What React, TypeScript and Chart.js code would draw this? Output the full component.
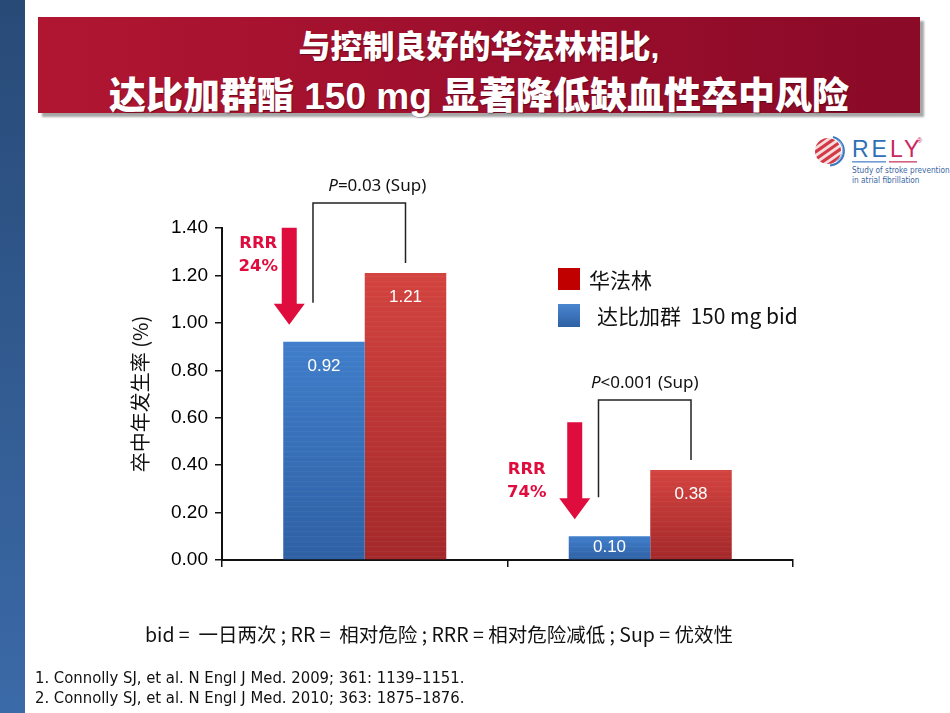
import React, { useEffect, useRef } from 'react';
import { Chart, registerables } from 'chart.js';

Chart.register(...registerables);

// ---- data ----
const groupLabels = ['RE-LY 2009', 'RE-LY 2010'];
const dabigatranRates = [0.92, 0.1];
const warfarinRates = [1.21, 0.38];
const dabigatranName = '达比加群  150 mg bid';
const warfarinName = '华法林';
const pValueTexts = ['=0.03 (Sup)', '<0.001 (Sup)'];
const rrrTexts = ['24%', '74%'];
const yMin = 0;
const yMax = 1.4;
const yStep = 0.2;
const yAxisTitle = '卒中年发生率 (%)';
const titleLines = ['与控制良好的华法林相比,', '达比加群酯 150 mg 显著降低缺血性卒中风险'];
const abbreviationNote = 'bid =  一日两次 ; RR =  相对危险 ; RRR = 相对危险减低 ; Sup = 优效性';
const references = [
  '1. Connolly SJ, et al. N Engl J Med. 2009; 361: 1139–1151.',
  '2. Connolly SJ, et al. N Engl J Med. 2010; 363: 1875–1876.',
];

// ---- styling ----
const BLUE_TOP = '#407ecb';
const BLUE_BOTTOM = '#2e60a4';
const RED_TOP = '#d3433f';
const RED_BOTTOM = '#a4282a';
const CRIMSON = '#df0d3d';
const CJK = '"Noto Sans CJK SC", "Noto Sans", sans-serif';
const ARIAL = '"Liberation Sans", Arial, sans-serif';

// nudges for the hand-placed callouts of each group
const pLabelShift = [18, 0];
const rrrTextShift = [
  { dx: -31, dy: 16 },
  { dx: -48, dy: 47 },
];

function barFill(ctx: any, top: string, bottom: string) {
  const chart = ctx.chart;
  const y = chart.scales && chart.scales.y;
  if (!chart.chartArea || !y || typeof ctx.raw !== 'number') return bottom;
  const y0 = y.getPixelForValue(ctx.raw);
  const y1 = y.getPixelForValue(0);
  const g = chart.ctx.createLinearGradient(0, y0, 0, y1);
  g.addColorStop(0, top);
  g.addColorStop(1, bottom);
  return g;
}

function drawDownArrow(ctx: CanvasRenderingContext2D, cx: number, top: number, tip: number) {
  const shaft = 7.5;
  const head = 15.5;
  const headLen = 21;
  ctx.beginPath();
  ctx.moveTo(cx - shaft, top);
  ctx.lineTo(cx + shaft, top);
  ctx.lineTo(cx + shaft, tip - headLen);
  ctx.lineTo(cx + head, tip - headLen);
  ctx.lineTo(cx, tip);
  ctx.lineTo(cx - head, tip - headLen);
  ctx.lineTo(cx - shaft, tip - headLen);
  ctx.closePath();
  ctx.fill();
}

const calloutPlugin = {
  id: 'strokeCallouts',
  afterDatasetsDraw(chart: any) {
    const ctx: CanvasRenderingContext2D = chart.ctx;
    const blueMeta = chart.getDatasetMeta(0);
    const redMeta = chart.getDatasetMeta(1);
    ctx.save();

    // faint horizontal texture on the bars
    [blueMeta, redMeta].forEach((meta: any) => {
      meta.data.forEach((bar: any) => {
        const left = bar.x - bar.width / 2;
        ctx.fillStyle = 'rgba(255,255,255,0.06)';
        for (let yy = bar.base - 3; yy > bar.y + 1; yy -= 5) {
          ctx.fillRect(left, yy, bar.width, 1);
        }
      });
    });

    // value labels inside bars
    ctx.fillStyle = '#ffffff';
    ctx.font = `17px ${ARIAL}`;
    ctx.textAlign = 'center';
    ctx.textBaseline = 'middle';
    const series = [dabigatranRates, warfarinRates];
    [blueMeta, redMeta].forEach((meta: any, s: number) => {
      meta.data.forEach((bar: any, i: number) => {
        const h = bar.base - bar.y;
        const ly = h < 44 ? bar.y + h / 2 : bar.y + 24;
        ctx.fillText(series[s][i].toFixed(2), bar.x, ly);
      });
    });

    groupLabels.forEach((_, i) => {
      const b = blueMeta.data[i];
      const r = redMeta.data[i];
      if (!b || !r) return;
      const bLeft = b.x - b.width / 2;

      // significance bracket
      const lx = b.x - 11;
      const rx = r.x;
      const topY = r.y - 70;
      ctx.strokeStyle = '#222';
      ctx.lineWidth = 1.5;
      ctx.beginPath();
      ctx.moveTo(lx, b.y - 39);
      ctx.lineTo(lx, topY);
      ctx.lineTo(rx, topY);
      ctx.lineTo(rx, r.y - 10);
      ctx.stroke();

      // P value text with italic P
      const cx = (lx + rx) / 2 + pLabelShift[i];
      const ty = topY - 17;
      ctx.fillStyle = '#111';
      ctx.textBaseline = 'middle';
      ctx.textAlign = 'left';
      ctx.font = `italic 17px "Noto Sans", "Open Sans", sans-serif`;
      const wP = ctx.measureText('P').width;
      ctx.font = `17px "Noto Sans", "Open Sans", sans-serif`;
      const wRest = ctx.measureText(pValueTexts[i]).width;
      const startX = cx - (wP + wRest) / 2;
      ctx.font = `italic 17px "Noto Sans", "Open Sans", sans-serif`;
      ctx.fillText('P', startX, ty);
      ctx.font = `17px "Noto Sans", "Open Sans", sans-serif`;
      ctx.fillText(pValueTexts[i], startX + wP, ty);

      // relative risk reduction arrow
      const ax = bLeft + 6;
      const tip = b.y - 17;
      const aTop = tip - 97;
      ctx.fillStyle = CRIMSON;
      drawDownArrow(ctx, ax, aTop, tip);

      ctx.font = `bold 16.5px "DejaVu Sans", sans-serif`;
      ctx.textAlign = 'center';
      const tx = ax + rrrTextShift[i].dx;
      const t1 = aTop + rrrTextShift[i].dy;
      ctx.fillText('RRR', tx, t1);
      ctx.fillText(rrrTexts[i], tx, t1 + 23);
    });
    ctx.restore();
  },
};

function StrokeChart() {
  const ref = useRef<HTMLCanvasElement>(null);
  useEffect(() => {
    const canvas = ref.current;
    if (!canvas) return;
    const chart = new Chart(canvas, {
      type: 'bar',
      data: {
        labels: groupLabels,
        datasets: [
          {
            label: dabigatranName,
            data: dabigatranRates,
            backgroundColor: (c: any) => barFill(c, BLUE_TOP, BLUE_BOTTOM),
            borderWidth: 0,
          },
          {
            label: warfarinName,
            data: warfarinRates,
            backgroundColor: (c: any) => barFill(c, RED_TOP, RED_BOTTOM),
            borderWidth: 0,
          },
        ],
      },
      options: {
        responsive: false,
        animation: false,
        devicePixelRatio: 1,
        layout: { padding: { left: 120, right: 157, top: 228, bottom: 143 } },
        datasets: { bar: { categoryPercentage: 0.571, barPercentage: 1 } },
        plugins: { legend: { display: false }, tooltip: { enabled: false } },
        scales: {
          x: {
            grid: {
              display: true,
              drawOnChartArea: false,
              drawTicks: true,
              tickLength: 7,
              color: '#111',
              lineWidth: 1.5,
              offset: true,
            },
            border: { display: true, color: '#111', width: 2 },
            ticks: { display: false },
            afterFit: (s: any) => {
              s.height = 10;
            },
          },
          y: {
            min: yMin,
            max: yMax,
            ticks: {
              stepSize: yStep,
              padding: 7,
              color: '#000',
              font: { family: ARIAL, size: 19 },
              callback: (v: any) => Number(v).toFixed(2),
            },
            grid: {
              drawOnChartArea: false,
              drawTicks: true,
              tickLength: 7,
              color: '#111',
              lineWidth: 1.5,
            },
            border: { display: true, color: '#111', width: 2 },
            title: {
              display: true,
              text: yAxisTitle,
              color: '#111',
              font: { family: CJK, size: 20 },
              padding: { top: 8, bottom: 0 },
            },
            afterFit: (s: any) => {
              s.width = 102;
            },
          },
        },
      },
      plugins: [calloutPlugin],
    } as any);
    return () => chart.destroy();
  }, []);
  return (
    <canvas
      ref={ref}
      width={950}
      height={713}
      style={{ position: 'absolute', left: 0, top: 0, width: 950, height: 713, display: 'block' }}
    />
  );
}

function RelyLogo() {
  const stripes = [-14, -8, -2, 4, 10];
  return (
    <svg
      width={150}
      height={70}
      viewBox="0 0 150 70"
      style={{ position: 'absolute', left: 800, top: 128 }}
    >
      <defs>
        <clipPath id="relyGlobe">
          <circle cx={28} cy={23} r={13} />
        </clipPath>
      </defs>
      <circle cx={28} cy={23} r={13} fill="#f6dede" />
      <g clipPath="url(#relyGlobe)" transform="rotate(-35 28 23)">
        {stripes.map((o) => (
          <rect key={o} x={10} y={23 + o} width={36} height={3.2} fill="#d23a47" />
        ))}
      </g>
      <path d="M 33 9 A 14.5 14.5 0 0 1 30 37.5" stroke="#3a78c0" strokeWidth={2.2} fill="none" />
      <path d="M 37 12 A 12 12 0 0 1 36 33" stroke="#8fb3dc" strokeWidth={1.2} fill="none" />
      <text x={52} y={29} fontSize={23} fontFamily={ARIAL} letterSpacing={3}>
        <tspan fill="#2f6fb5">RE</tspan>
        <tspan fill="#c9285d">LY</tspan>
      </text>
      <text x={117} y={15} fontSize={7} fontFamily={ARIAL} fill="#c9285d">
        ®
      </text>
      <rect x={52} y={33} width={34} height={1.6} fill="#6f9dd2" />
      <rect x={89} y={33} width={28} height={1.6} fill="#d2607f" />
      <text x={52} y={45} fontSize={8.2} fontFamily={'"DejaVu Sans Condensed", "Open Sans", sans-serif'} fill="#3a67a0">
        Study of stroke prevention
      </text>
      <text x={52} y={55} fontSize={8.2} fontFamily={'"DejaVu Sans Condensed", "Open Sans", sans-serif'} fill="#3a67a0">
        in atrial fibrillation
      </text>
    </svg>
  );
}

export default function App() {
  return (
    <div
      style={{
        position: 'absolute',
        left: 0,
        top: 0,
        width: 950,
        height: 713,
        overflow: 'hidden',
        background: '#ffffff',
        fontFamily: CJK,
      }}
    >
      {/* left accent strip */}
      <div
        style={{
          position: 'absolute',
          left: 0,
          top: 0,
          width: 25,
          height: 713,
          background: 'linear-gradient(180deg, #284a77 0%, #3b6aa8 100%)',
        }}
      />
      {/* title banner */}
      <div
        style={{
          position: 'absolute',
          left: 38,
          top: 17,
          width: 882,
          height: 96,
          background: 'linear-gradient(90deg, #b11631 0%, #9d0f2d 50%, #8a0a27 100%)',
          boxShadow: '4px 4px 2px rgba(0,0,0,0.35)',
          color: '#fff',
          textAlign: 'center',
          fontWeight: 900,
          fontFamily: `"Liberation Sans", ${CJK}`,
          textShadow: '1px 1px 1px rgba(0,0,0,0.35)',
        }}
      >
        <div style={{ position: 'absolute', left: 0, right: 0, top: 12, fontSize: 32, lineHeight: '36px' }}>
          {titleLines[0]}
        </div>
        <div style={{ position: 'absolute', left: 0, right: 0, top: 59, fontSize: 37, lineHeight: '42px' }}>
          {titleLines[1]}
        </div>
      </div>
      <RelyLogo />
      <StrokeChart />
      {/* legend */}
      <div style={{ position: 'absolute', left: 558, top: 268, width: 22, height: 22, background: '#c00000' }} />
      <div style={{ position: 'absolute', left: 589, top: 266, fontSize: 21, lineHeight: '26px', color: '#111' }}>
        {warfarinName}
      </div>
      <div
        style={{
          position: 'absolute',
          left: 558,
          top: 304,
          width: 22,
          height: 23,
          background: `linear-gradient(180deg, #4a86d0 0%, ${BLUE_BOTTOM} 100%)`,
        }}
      />
      <div
        style={{
          position: 'absolute',
          left: 597,
          top: 302,
          fontSize: 21,
          lineHeight: '26px',
          color: '#111',
          whiteSpace: 'pre',
        }}
      >
        {dabigatranName}
      </div>
      {/* abbreviations */}
      <div
        style={{
          position: 'absolute',
          left: 145,
          top: 621,
          fontSize: 19.5,
          lineHeight: '26px',
          color: '#111',
          whiteSpace: 'pre',
        }}
      >
        {abbreviationNote}
      </div>
      {/* references */}
      {references.map((r, i) => (
        <div
          key={r}
          style={{
            position: 'absolute',
            left: 35,
            top: 668 + i * 20,
            fontSize: 16.5,
            lineHeight: '20px',
            color: '#111',
            fontFamily: '"Liberation Sans Narrow", "Arial Narrow", "DejaVu Sans Condensed", sans-serif',
            whiteSpace: 'pre',
          }}
        >
          {r}
        </div>
      ))}
    </div>
  );
}
